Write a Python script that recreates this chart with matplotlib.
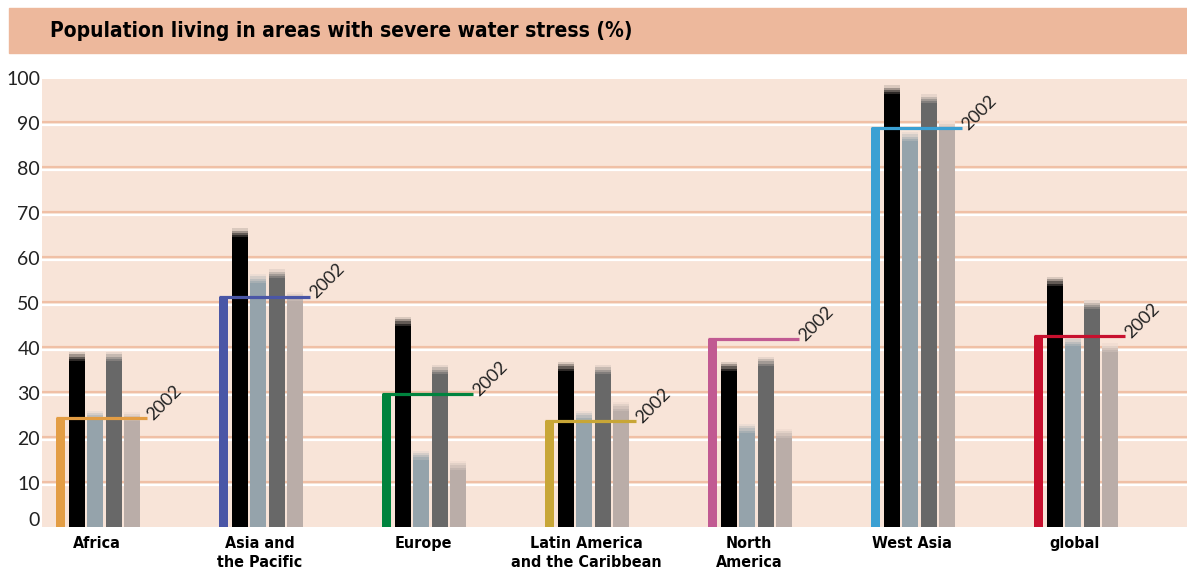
import numpy as np
import matplotlib
matplotlib.use('Agg')
import matplotlib.pyplot as plt
from matplotlib import colors as mcolors
from matplotlib.patches import Rectangle

# data
regions = ['Africa', 'Asia and\nthe Pacific', 'Europe', 'Latin America\nand the Caribbean',
           'North\nAmerica', 'West Asia', 'global']
val_2002 = [24.2, 51.2, 29.5, 23.5, 41.7, 88.7, 42.5]
series_a = [38.9, 66.4, 46.7, 36.7, 36.7, 98.2, 55.6]   # black
series_b = [25.8, 56.2, 17.0, 25.8, 22.9, 87.8, 42.2]   # blue grey
series_c = [38.9, 57.3, 36.0, 36.0, 37.8, 96.2, 50.4]   # dark grey
series_d = [25.6, 52.2, 14.7, 27.8, 21.8, 90.2, 40.8]   # taupe
yticks = [0, 10, 20, 30, 40, 50, 60, 70, 80, 90, 100]
year_label = '2002'
title = 'Population living in areas with severe water stress (%)'

region_colors = ['#E39D44', '#4A56A6', '#00833E', '#C8A637', '#C15A92', '#3BA0D3', '#C8102E']
series_colors = ['#000000', '#95A3AB', '#686868', '#BAADA8']
bg = '#F8E4D8'
banner = '#EDB89C'
grid_c = '#F0C0A6'

cond = ['DejaVu Sans']
light = ['Lato', 'DejaVu Sans']

W, H = 1187, 573
fig = plt.figure(figsize=(W / 100, H / 100), dpi=100)

# title banner
fig.patches.append(Rectangle((9 / W, 1 - 53 / H), (W - 9) / W, 45 / H,
                             transform=fig.transFigure, color=banner, zorder=0))
fig.text(50 / W, 1 - 31 / H, title, fontsize=15, fontweight='bold', family=cond,
         fontstretch='condensed', va='center', ha='left')

ax = fig.add_axes([42 / W, 1 - 527 / H, (W - 42) / W, 448 / H])
ax.set_facecolor(bg)
for s in ax.spines.values():
    s.set_visible(False)
ax.set_xticks([])
ax.set_yticks([])
ax.set_ylim(0, 99.6)
ax.set_xlim(-14, W - 56)

# grid: salmon line with a white line just under it
for v in yticks[1:-1]:
    ax.axhline(v, color=grid_c, lw=1.6, zorder=1)
    ax.axhline(v - 0.72, color='white', lw=1.6, zorder=1)

spacing = 163
offsets = [13, 31, 50, 68]
bw = 16
cap = 2.0
mixes = [0.12, 0.35, 0.6, 0.82]
bg_rgb = np.array(mcolors.to_rgb(bg))

ytr = ax.get_yaxis_transform()
for i, name in enumerate(regions):
    x0 = i * spacing
    vals = [series_a[i], series_b[i], series_c[i], series_d[i]]
    for off, v, c in zip(offsets, vals, series_colors):
        c_rgb = np.array(mcolors.to_rgb(c))
        ax.bar(x0 + off, v - cap, width=bw, align='edge', color=c, zorder=2)
        step = cap / len(mixes)
        for k, m in enumerate(mixes[::-1]):
            col = m * c_rgb + (1 - m) * bg_rgb
            ax.bar(x0 + off, step, bottom=v - cap + k * step, width=bw,
                   align='edge', color=col, zorder=2)
    # 2002 bar and level line
    ax.bar(x0, val_2002[i], width=9, align='edge', color=region_colors[i], zorder=3)
    ax.plot([x0, x0 + 91], [val_2002[i], val_2002[i]], color=region_colors[i],
            lw=2.3, solid_capstyle='butt', zorder=4)
    ax.text(x0 + 97, val_2002[i] - 0.6, year_label, rotation=45, rotation_mode='anchor',
            ha='left', va='baseline', fontsize=13, family=light,
            color='#222222', zorder=5)
    ax.annotate(name, xy=(x0 + 41, 0), xycoords=('data', 'axes fraction'),
                xytext=(0, -6.5), textcoords='offset points', ha='center', va='top',
                fontsize=11.5, fontweight='bold', family=cond, fontstretch='condensed',
                linespacing=1.35, annotation_clip=False)

for v in yticks:
    yy = v - 0.6 if v > 0 else 1.5
    ax.text(-2 / (W - 42), yy, str(v), transform=ytr, ha='right', va='center',
            fontsize=14, family=light, color='#222222')

fig.savefig('out.png', dpi=100)
